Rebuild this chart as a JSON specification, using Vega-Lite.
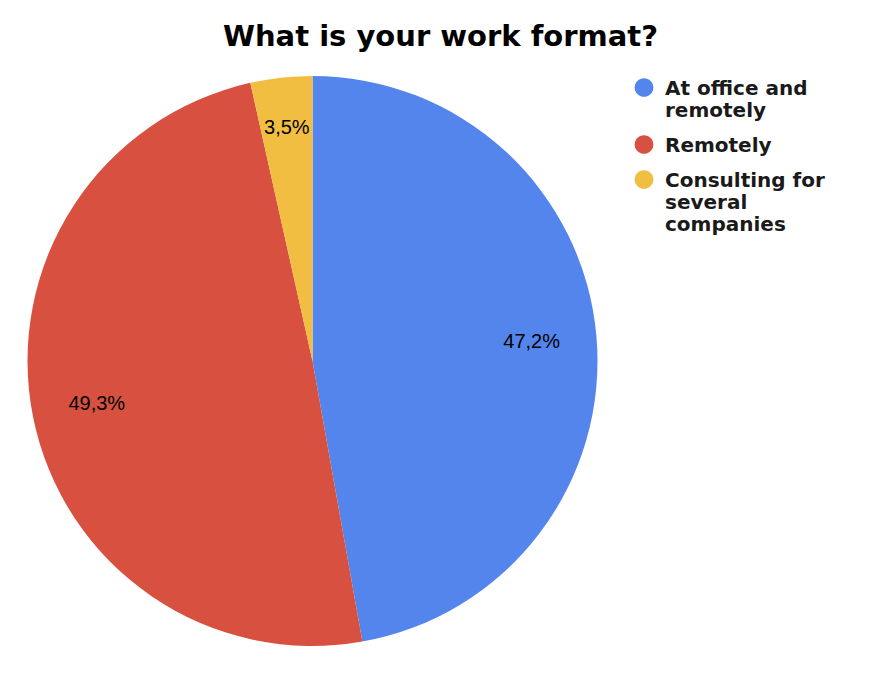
{
  "$schema": "https://vega.github.io/schema/vega-lite/v6.json",
  "width": 570,
  "height": 570,
  "autosize": "none",
  "padding": {"left": 27.5, "top": 76, "right": 288.5, "bottom": 32},
  "background": "white",
  "title": {
    "text": "What is your work format?",
    "font": "DejaVu Sans",
    "fontWeight": "bold",
    "fontSize": 29,
    "color": "#000000",
    "anchor": "middle",
    "dx": 128,
    "offset": 17
  },
  "config": {
    "view": {"stroke": null},
    "locale": {
      "number": {"decimal": ",", "thousands": ".", "grouping": [3], "currency": ["", " €"]}
    }
  },
  "data": {
    "values": [
      {"idx": 1, "format": "At office and remotely", "share": 0.472},
      {"idx": 2, "format": "Remotely", "share": 0.493},
      {"idx": 3, "format": "Consulting for several companies", "share": 0.035}
    ]
  },
  "encoding": {
    "theta": {"field": "share", "type": "quantitative", "stack": true},
    "order": {"field": "idx", "type": "quantitative"}
  },
  "layer": [
    {
      "mark": {"type": "arc", "stroke": null},
      "encoding": {
        "color": {
          "field": "format",
          "type": "nominal",
          "sort": null,
          "scale": {
            "domain": ["At office and remotely", "Remotely", "Consulting for several companies"],
            "range": ["#5385ec", "#d85140", "#f2be42"]
          },
          "legend": {
            "title": null,
            "orient": "none",
            "legendX": 606.5,
            "legendY": -7,
            "padding": 0,
            "symbolType": "M -1 0.91 A 1 1 0 1 1 1 0.91 A 1 1 0 1 1 -1 0.91 Z",
            "symbolSize": 350,
            "symbolStrokeWidth": 0,
            "labelFont": "DejaVu Sans",
            "labelFontWeight": "bold",
            "labelFontSize": 20,
            "labelColor": "#1a1a1a",
            "labelOffset": 11,
            "labelLimit": 300,
            "labelBaseline": "top",
            "labelLineHeight": 20,
            "rowPadding": 5,
            "labelExpr": "datum.label == 'At office and remotely' ? ['At office and', 'remotely'] : datum.label == 'Consulting for several companies' ? ['Consulting for', 'several', 'companies'] : datum.label"
          }
        }
      }
    },
    {
      "mark": {"type": "text", "radius": 220, "font": "Liberation Sans", "fontSize": 20, "color": "#000000"},
      "encoding": {
        "text": {
          "condition": {"test": "datum.idx != 3", "field": "share", "type": "quantitative", "format": ".1%"},
          "value": ""
        }
      }
    },
    {
      "mark": {"type": "text", "radius": 234, "font": "Liberation Sans", "fontSize": 20, "color": "#000000"},
      "encoding": {
        "text": {
          "condition": {"test": "datum.idx == 3", "field": "share", "type": "quantitative", "format": ".1%"},
          "value": ""
        }
      }
    }
  ]
}
